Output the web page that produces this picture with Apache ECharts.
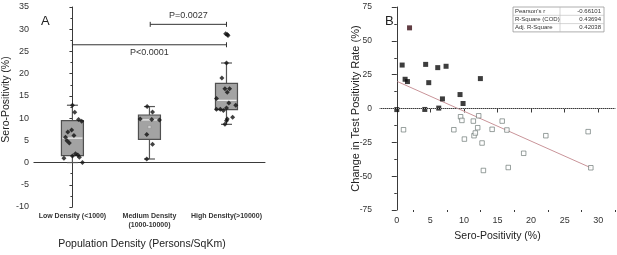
<!DOCTYPE html>
<html>
<head>
<meta charset="utf-8">
<script src="https://cdn.jsdelivr.net/npm/echarts@6/dist/echarts.min.js"></script>
<style>
  html, body { margin: 0; padding: 0; background: #fff; }
  #chart { width: 617px; height: 255px; }
</style>
</head>
<body>
<div id="chart"></div>
<script>
const densityCategories = ['Low Density (<1000)', 'Medium Density\n(1000-10000)', 'High Density(>10000)']
// [min, q1, median, q3, max]
const boxStats = [
  [0, 1.55, 5.5, 9.45, 12.9],
  [0.8, 5.2, 9.6, 10.7, 12.6],
  [8.6, 11.9, 14.0, 17.8, 22.4]
]
const mediumMean = 8.0
// [category position with jitter, sero-positivity]
const lowPoints = [
  [0.0, 12.9], [0.03, 11.3], [0.08, 9.7], [0.12, 9.3], [-0.01, 7.3], [-0.06, 6.9],
  [0.02, 6.1], [-0.09, 5.7], [-0.07, 4.9], [-0.04, 4.4], [0.04, 2.0], [0.07, 1.7],
  [0.0, 1.5], [0.09, 1.2], [-0.11, 0.95], [0.13, 0]
]
const mediumPoints = [
  [0.97, 12.6], [1.04, 11.4], [0.88, 9.8], [1.03, 9.7], [1.13, 9.6],
  [0.965, 6.3], [1.04, 4.1], [0.965, 0.8]
]
const highPoints = [
  [1.99, 29.0], [2.01, 28.8], [2.02, 28.6], [2.0, 22.4], [1.94, 19.0], [1.98, 16.6],
  [2.04, 16.6], [2.01, 15.8], [1.87, 14.4], [2.03, 13.4], [2.12, 12.9], [1.92, 12.0],
  [1.87, 12.0], [1.96, 11.7], [2.0, 12.3], [2.08, 10.2], [2.01, 9.8], [2.0, 9.4], [1.98, 8.6]
]
// [x1, x2, y, label, label above line]
const brackets = [
  [0, 2, 26.5, 'P<0.0001', false],
  [1.01, 2, 31.1, 'P=0.0027', true]
]

// panel B: [sero-positivity, change in test positivity rate]
const risePoints = [
  [0, -0.8], [0.8, 32.1], [1.9, 59.6], [1.24, 21.6], [1.59, 19.9], [4.17, -0.7],
  [4.3, 32.6], [4.76, 19.1], [6.1, 30.2], [7.34, 31.2], [6.25, 0.3], [6.8, 7.1],
  [9.42, 10.3], [9.87, 3.7], [12.45, 22.1]
]
const fallPoints = [
  [1.0, -15.7], [8.5, -15.7], [9.5, -6.1], [9.7, -8.8], [10.07, -22.6], [11.4, -9.3],
  [11.5, -20.1], [11.7, -18.1], [12.05, -14.2], [12.2, -5.4], [12.7, -25.5], [12.9, -45.8],
  [14.2, -15.4], [15.7, -9.3], [16.4, -15.9], [16.6, -43.6], [18.9, -33.1], [22.2, -20.1],
  [28.5, -17.1], [28.9, -43.8]
]
const fitLine = [[0.1, 19.9], [28.9, -43.8]]
const fitStats = [
  ["Pearson's r", '-0.66101'],
  ['R-Square (COD)', '0.43694'],
  ['Adj. R-Square', '0.42038']
]
const seroTicks = [0, 5, 10, 15, 20, 25, 30]
const seroMinorTicks = [2.5, 7.5, 12.5, 17.5, 22.5, 27.5, 32.5]

const FONT = 'Liberation Sans'
const AXIS_COLOR = '#3a3a3a'
const LABEL_COLOR = '#333'

const chart = echarts.init(document.getElementById('chart'), null, { renderer: 'canvas' })

const axisLine = { lineStyle: { color: AXIS_COLOR, width: 1 } }

const renderBox = (params, api) => {
  const x = api.value(0)
  const pMin = api.coord([x, api.value(1)])
  const pQ1 = api.coord([x, api.value(2)])
  const pMed = api.coord([x, api.value(3)])
  const pQ3 = api.coord([x, api.value(4)])
  const pMax = api.coord([x, api.value(5)])
  const half = 11
  const cap = 5.5
  const stroke = { stroke: '#555', lineWidth: 1.2 }
  return {
    type: 'group',
    children: [
      { type: 'line', shape: { x1: pMax[0], y1: pMax[1], x2: pQ3[0], y2: pQ3[1] }, style: stroke },
      { type: 'line', shape: { x1: pQ1[0], y1: pQ1[1], x2: pMin[0], y2: pMin[1] }, style: stroke },
      { type: 'line', shape: { x1: pMax[0] - cap, y1: pMax[1], x2: pMax[0] + cap, y2: pMax[1] }, style: stroke },
      { type: 'line', shape: { x1: pMin[0] - cap, y1: pMin[1], x2: pMin[0] + cap, y2: pMin[1] }, style: stroke },
      {
        type: 'rect',
        shape: { x: pQ3[0] - half, y: pQ3[1], width: half * 2, height: pQ1[1] - pQ3[1] },
        style: { fill: '#a3a3a3', stroke: '#505050', lineWidth: 1.2 }
      },
      { type: 'line', shape: { x1: pMed[0] - half + 1, y1: pMed[1], x2: pMed[0] + half - 1, y2: pMed[1] }, style: { stroke: '#f2f2f2', lineWidth: 1.2 } }
    ]
  }
}

const renderBracket = (params, api) => {
  const p1 = api.coord([api.value(0), api.value(2)])
  const p2 = api.coord([api.value(1), api.value(2)])
  const above = brackets[params.dataIndex][4]
  const stroke = { stroke: '#333', lineWidth: 1 }
  return {
    type: 'group',
    children: [
      { type: 'line', shape: { x1: p1[0], y1: p1[1], x2: p2[0], y2: p2[1] }, style: stroke },
      { type: 'line', shape: { x1: p1[0], y1: p1[1] - 2.5, x2: p1[0], y2: p1[1] + 2.5 }, style: stroke },
      { type: 'line', shape: { x1: p2[0], y1: p2[1] - 2.5, x2: p2[0], y2: p2[1] + 2.5 }, style: stroke },
      {
        type: 'text',
        x: (p1[0] + p2[0]) / 2,
        y: above ? p1[1] - 4 : p1[1] + 3,
        style: {
          text: brackets[params.dataIndex][3],
          fontFamily: FONT,
          fontSize: 9,
          fill: '#333',
          align: 'center',
          verticalAlign: above ? 'bottom' : 'top'
        }
      }
    ]
  }
}

const tableGraphic = () => {
  const left = 513
  const top = 7
  const width = 91
  const rowH = 8.3
  const split = 560
  const children = [
    { type: 'rect', shape: { x: left, y: top, width, height: rowH * fitStats.length }, style: { fill: '#fff', stroke: '#999', lineWidth: 0.8 } },
    { type: 'line', shape: { x1: split, y1: top, x2: split, y2: top + rowH * fitStats.length }, style: { stroke: '#bbb', lineWidth: 0.6 } }
  ]
  fitStats.forEach((row, i) => {
    if (i > 0) {
      children.push({ type: 'line', shape: { x1: left, y1: top + rowH * i, x2: left + width, y2: top + rowH * i }, style: { stroke: '#bbb', lineWidth: 0.6 } })
    }
    const cy = top + rowH * i + rowH / 2
    children.push({ type: 'text', x: left + 2, y: cy, style: { text: row[0], fontFamily: FONT, fontSize: 6, fill: '#333', verticalAlign: 'middle' } })
    children.push({ type: 'text', x: left + width - 3, y: cy, style: { text: row[1], fontFamily: FONT, fontSize: 6, fill: '#333', align: 'right', verticalAlign: 'middle' } })
  })
  return { type: 'group', children, z: 100 }
}

chart.setOption({
  animation: false,
  grid: [
    { left: 30, top: 7, width: 235, height: 203 },
    { left: 380, top: 7, width: 235, height: 203 }
  ],
  xAxis: [
    {
      gridIndex: 0,
      type: 'category',
      data: densityCategories,
      name: 'Population Density (Persons/SqKm)',
      nameLocation: 'middle',
      nameGap: 32,
      nameTextStyle: { fontFamily: FONT, fontSize: 10.5, color: '#222', padding: [0, 15, 0, 0] },
      axisLine,
      axisTick: { alignWithLabel: true, length: 3, lineStyle: { color: AXIS_COLOR } },
      axisLabel: { interval: 0, margin: 5, fontFamily: FONT, fontSize: 7, fontWeight: 'bold', color: LABEL_COLOR, lineHeight: 9 }
    },
    {
      gridIndex: 0,
      type: 'value',
      min: -0.5,
      max: 2.5,
      show: false
    },
    {
      gridIndex: 1,
      type: 'value',
      min: -2.5,
      max: 32.5,
      name: 'Sero-Positivity (%)',
      nameLocation: 'middle',
      nameGap: 21,
      nameTextStyle: { fontFamily: FONT, fontSize: 10.5, color: '#222' },
      splitLine: { show: false },
      axisLine,
      axisTick: { customValues: seroTicks, length: 4, lineStyle: { color: AXIS_COLOR } },
      axisLabel: { customValues: seroTicks, margin: 6, fontFamily: FONT, fontSize: 9, color: LABEL_COLOR }
    },
    {
      gridIndex: 1,
      type: 'value',
      position: 'bottom',
      min: -2.5,
      max: 32.5,
      splitLine: { show: false },
      axisLine: { show: false },
      axisTick: { customValues: seroMinorTicks, length: 2, lineStyle: { color: AXIS_COLOR } },
      axisLabel: { show: false }
    }
  ],
  yAxis: [
    {
      gridIndex: 0,
      type: 'value',
      min: -10,
      max: 35,
      interval: 5,
      name: 'Sero-Positivity (%)',
      nameLocation: 'middle',
      nameGap: 17,
      nameTextStyle: { fontFamily: FONT, fontSize: 10.5, color: '#222', padding: [0, 0, 0, 15] },
      splitLine: { show: false },
      axisLine: { show: true, lineStyle: { color: AXIS_COLOR } },
      axisTick: { show: true, length: 3, lineStyle: { color: AXIS_COLOR } },
      minorTick: { show: true, splitNumber: 2, length: 2, lineStyle: { color: AXIS_COLOR } },
      axisLabel: { margin: 5, fontFamily: FONT, fontSize: 9, color: LABEL_COLOR }
    },
    {
      gridIndex: 1,
      type: 'value',
      min: -75,
      max: 75,
      interval: 25,
      name: 'Change in Test Positivity Rate (%)',
      nameLocation: 'middle',
      nameGap: 19,
      nameMoveOverlap: false,
      nameTextStyle: { fontFamily: FONT, fontSize: 11, color: '#222' },
      splitLine: { show: false },
      axisLine: { show: true, lineStyle: { color: AXIS_COLOR } },
      axisTick: { show: true, length: 5, lineStyle: { color: AXIS_COLOR } },
      minorTick: { show: true, splitNumber: 2, length: 2.5, lineStyle: { color: AXIS_COLOR } },
      axisLabel: { margin: 8, fontFamily: FONT, fontSize: 8.5, color: LABEL_COLOR }
    }
  ],
  graphic: [
    { type: 'text', left: 41, top: 15, style: { text: 'A', fontFamily: FONT, fontSize: 13, fill: '#222' } },
    { type: 'text', left: 385, top: 15, style: { text: 'B', fontFamily: FONT, fontSize: 13, fill: '#222' } },
    tableGraphic()
  ],
  series: [
    {
      type: 'custom',
      xAxisIndex: 1,
      yAxisIndex: 0,
      renderItem: renderBox,
      data: boxStats.map((s, i) => [i, ...s]),
      z: 2
    },
    {
      type: 'scatter',
      xAxisIndex: 1,
      yAxisIndex: 0,
      symbol: 'rect',
      symbolSize: 3,
      itemStyle: { color: '#d8d8d8', borderColor: '#888', borderWidth: 0.5 },
      data: [[1, mediumMean]],
      z: 3
    },
    {
      type: 'scatter',
      xAxisIndex: 1,
      yAxisIndex: 0,
      symbol: 'diamond',
      symbolSize: 5,
      itemStyle: { color: '#111' },
      data: [...lowPoints, ...mediumPoints, ...highPoints],
      z: 4
    },
    {
      type: 'custom',
      xAxisIndex: 1,
      yAxisIndex: 0,
      renderItem: renderBracket,
      data: brackets.map((b) => [b[0], b[1], b[2]]),
      z: 5
    },
    {
      type: 'line',
      xAxisIndex: 2,
      yAxisIndex: 1,
      data: fitLine,
      symbol: 'none',
      lineStyle: { color: '#c99499', width: 1 },
      markLine: {
        silent: true,
        symbol: 'none',
        label: { show: false },
        lineStyle: { color: '#999', type: 'dotted', width: 1 },
        data: [{ yAxis: 0 }]
      },
      z: 2
    },
    {
      type: 'scatter',
      xAxisIndex: 2,
      yAxisIndex: 1,
      symbol: 'rect',
      symbolSize: 5,
      itemStyle: { color: '#0d0d0d' },
      data: risePoints.map((p, i) => i === 2 ? { value: p, itemStyle: { color: '#3a0d14' } } : p),
      z: 4
    },
    {
      type: 'scatter',
      xAxisIndex: 2,
      yAxisIndex: 1,
      symbol: 'rect',
      symbolSize: 4.5,
      itemStyle: { color: '#fff', borderColor: '#5f6b68', borderWidth: 0.8 },
      data: fallPoints,
      z: 4
    }
  ]
})
</script>
</body>
</html>
